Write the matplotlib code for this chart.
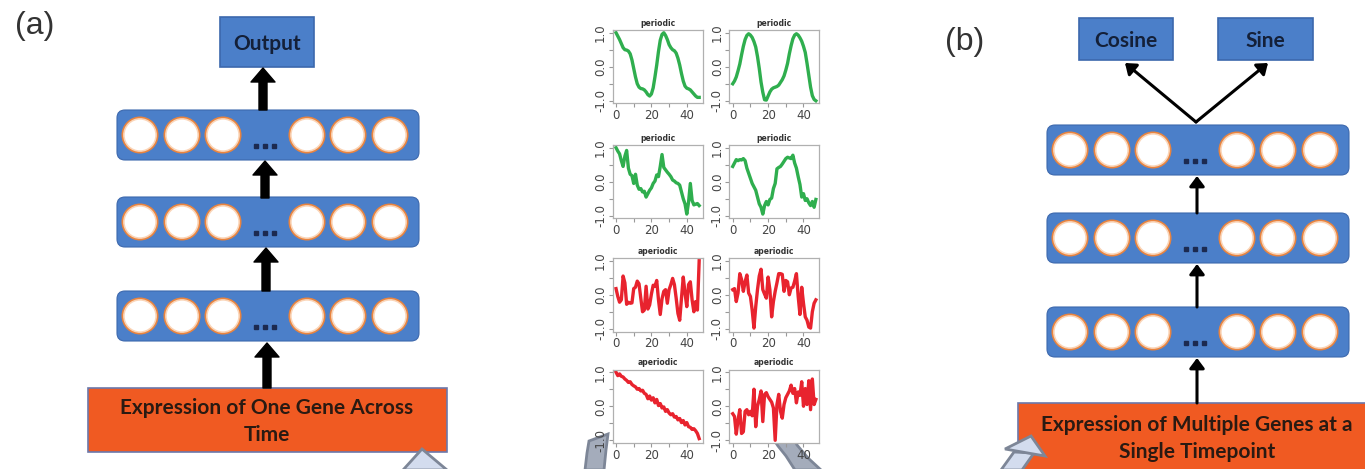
import numpy as np
import matplotlib
matplotlib.use("Agg")
import matplotlib.pyplot as plt
from matplotlib.patches import FancyBboxPatch, Rectangle, Circle, FancyArrow, Polygon

# ---------------- data ----------------
time = list(range(48))

periodic_1 = [1.00, 0.90, 0.80, 0.68, 0.56, 0.50, 0.49, 0.46, 0.38, 0.20, -0.05, -0.30,
              -0.50, -0.60, -0.64, -0.65, -0.68, -0.74, -0.82, -0.86, -0.80, -0.62, -0.30, 0.05,
              0.45, 0.78, 0.95, 1.00, 0.92, 0.80, 0.65, 0.56, 0.50, 0.47, 0.40, 0.25,
              0.05, -0.20, -0.42, -0.57, -0.63, -0.65, -0.68, -0.74, -0.80, -0.86, -0.90, -0.90]
periodic_2 = [-0.50, -0.42, -0.30, -0.12, 0.08, 0.35, 0.60, 0.80, 0.92, 0.97, 0.93, 0.86,
              0.74, 0.58, 0.30, -0.05, -0.45, -0.75, -0.97, -0.98, -0.86, -0.74, -0.66, -0.62,
              -0.60, -0.58, -0.54, -0.46, -0.38, -0.27, -0.10, 0.10, 0.38, 0.62, 0.82, 0.93,
              0.97, 0.93, 0.85, 0.75, 0.60, 0.42, 0.10, -0.25, -0.60, -0.85, -0.96, -1.00]
periodic_3 = [1.00, 0.90, 0.82, 0.62, 0.45, 0.75, 0.92, 0.40, 0.22, 0.18, -0.05, 0.22,
              -0.10, -0.22, -0.20, -0.30, -0.28, -0.45, -0.35, -0.25, -0.18, -0.05, 0.02, 0.20,
              0.15, 0.45, 0.80, 0.42, 0.35, 0.28, 0.22, 0.15, 0.05, 0.02, -0.03, -0.05,
              -0.10, -0.30, -0.50, -0.65, -0.95, -0.60, -0.05, -0.55, -0.68, -0.66, -0.64, -0.70]
periodic_4 = [0.45, 0.55, 0.65, 0.62, 0.65, 0.64, 0.68, 0.62, 0.40, 0.25, 0.10, -0.05,
              -0.15, -0.25, -0.45, -0.65, -0.75, -0.95, -0.70, -0.58, -0.68, -0.52, -0.48, -0.20,
              -0.05, 0.38, 0.42, 0.45, 0.52, 0.60, 0.68, 0.72, 0.70, 0.68, 0.78, 0.55,
              0.40, 0.15, -0.08, -0.45, -0.35, -0.55, -0.50, -0.62, -0.70, -0.58, -0.75, -0.52]
aperiodic_1 = [0.18, -0.05, -0.22, -0.15, 0.55, 0.35, -0.28, -0.22, -0.25, -0.24, 0.18, 0.22,
               0.40, 0.32, -0.10, -0.50, -0.45, 0.25, -0.42, -0.30, 0.02, 0.28, 0.25, 0.42,
               -0.15, -0.58, -0.12, 0.10, 0.15, -0.25, 0.15, 0.30, 0.48, 0.30, -0.10, -0.55,
               -0.75, -0.10, 0.52, 0.05, -0.35, 0.30, 0.38, -0.15, -0.50, -0.20, -0.45, 1.00]
aperiodic_2 = [0.15, 0.18, -0.20, 0.05, 0.62, 0.45, 0.10, 0.38, 0.58, 0.05, -0.05, -0.45,
               -0.98, -0.35, 0.15, 0.55, 0.75, 0.15, 0.02, -0.10, 0.52, 0.15, -0.65, -0.20,
               0.10, 0.35, 0.62, 0.62, 0.60, 0.10, 0.42, 0.38, 0.00, 0.20, 0.22, 0.40,
               0.62, -0.05, -0.58, 0.22, -0.25, -0.65, -0.75, -0.95, -0.98, -0.50, -0.25, -0.15]
aperiodic_3 = [1.00, 0.90, 0.95, 0.88, 0.86, 0.80, 0.76, 0.70, 0.72, 0.64, 0.60, 0.57,
               0.50, 0.52, 0.45, 0.47, 0.38, 0.35, 0.22, 0.30, 0.18, 0.25, 0.10, 0.20,
               0.02, 0.08, -0.05, -0.02, -0.15, -0.10, -0.20, -0.25, -0.22, -0.32, -0.30, -0.40,
               -0.36, -0.48, -0.42, -0.55, -0.48, -0.60, -0.62, -0.68, -0.66, -0.72, -0.80, -0.95]
aperiodic_4 = [-0.22, -0.30, -0.82, -0.40, -0.10, -0.80, -0.75, -0.15, -0.10, -0.25, -0.15, -0.28,
               0.50, -0.60, 0.00, 0.20, 0.45, -0.45, 0.35, 0.40, 0.28, 0.20, 0.12, -0.05,
               -1.00, 0.05, 0.35, -0.15, -0.35, 0.05, 0.25, 0.35, 0.45, 0.62, 0.38, 0.52,
               0.10, 0.42, 0.32, 0.72, 0.00, 0.52, 0.05, 0.75, -0.10, 0.80, 0.05, 0.20]

series = [periodic_1, periodic_2, periodic_3, periodic_4,
          aperiodic_1, aperiodic_2, aperiodic_3, aperiodic_4]
titles = ["periodic"] * 4 + ["aperiodic"] * 4
line_colors = ["#2fae4e"] * 4 + ["#e8232e"] * 4

# ---------------- figure ----------------
W, H = 1365, 469
fig = plt.figure(figsize=(W / 100, H / 100), dpi=100)
fig.patch.set_facecolor("white")
ax = fig.add_axes([0, 0, 1, 1])
ax.set_xlim(0, W)
ax.set_ylim(H, 0)
ax.axis("off")

BLUE = "#4b7fc9"
BLUE_EDGE = "#3c68ad"
ORANGE = "#f05a22"
BOX_FONT = ["Lato", "DejaVu Sans"]
TXT_DARK = "#2a1a12"
TXT_NAVY = "#142038"


def draw_layer(x0, x1, yc, h=50):
    ax.add_patch(FancyBboxPatch((x0, yc - h / 2), x1 - x0, h,
                                boxstyle="round,pad=0,rounding_size=8",
                                fc=BLUE, ec=BLUE_EDGE, lw=0.8, zorder=2))
    offs = [23, 65, 106, 190, 231, 273]
    for o in offs:
        cx = x0 + o
        ax.add_patch(Circle((cx, yc), 18.5, fc="#e9843f", ec="none", zorder=3))
        ax.add_patch(Circle((cx, yc), 16.9, fc="#fad5b8", ec="none", zorder=3))
        ax.add_patch(Circle((cx, yc), 15.3, fc="white", ec="none", zorder=3))
    dx = x0 + 148
    ax.plot([dx - 9, dx, dx + 9], [yc + 11] * 3, ls="none", marker="s",
            ms=2.8, color="#1c2a50", zorder=3)


def draw_box(x0, x1, y0, y1, fc, ec):
    ax.add_patch(Rectangle((x0, y0), x1 - x0, y1 - y0, fc=fc, ec=ec, lw=1.2, zorder=2))


def thick_arrow(x, ys, ye):
    ax.add_patch(FancyArrow(x, ys, 0, ye - ys, width=8, head_width=24, head_length=14,
                            length_includes_head=True, fc="black", ec="black",
                            lw=1, joinstyle="round", zorder=4))


def thin_arrow(xs, ys, xe, ye):
    ax.annotate("", xy=(xe, ye), xytext=(xs, ys),
                arrowprops=dict(arrowstyle="-|>,head_width=0.45,head_length=0.6",
                                lw=2.2, color="black", shrinkA=0, shrinkB=0),
                zorder=4)


# ----- panel (a) -----
ax.text(35, 26, "(a)", fontsize=23, family=["Liberation Sans", "DejaVu Sans"],
        color="#333333", ha="center", va="center")
draw_box(220, 314, 17, 67, BLUE, BLUE_EDGE)
ax.text(267, 50, "Output", fontsize=15, fontweight="bold", family=BOX_FONT,
        color=TXT_NAVY, ha="center", va="baseline", zorder=5)
for yc in (135, 222, 316):
    draw_layer(117, 419, yc)
draw_box(88, 447, 388, 452, ORANGE, "#6c78aa")
ax.text(267, 414, "Expression of One Gene Across", fontsize=15, fontweight="bold",
        family=BOX_FONT, color=TXT_DARK, ha="center", va="baseline", zorder=5)
ax.text(267, 441, "Time", fontsize=15, fontweight="bold",
        family=BOX_FONT, color=TXT_DARK, ha="center", va="baseline", zorder=5)
thick_arrow(267, 388, 343)
thick_arrow(266, 291, 248)
thick_arrow(265, 198, 161)
thick_arrow(263, 110, 68)

# ----- panel (b) -----
ax.text(965, 42, "(b)", fontsize=23, family=["Liberation Sans", "DejaVu Sans"],
        color="#333333", ha="center", va="center")
draw_box(1079, 1173, 18, 60, BLUE, BLUE_EDGE)
draw_box(1218, 1313, 18, 60, BLUE, BLUE_EDGE)
ax.text(1126, 47, "Cosine", fontsize=15, fontweight="bold", family=BOX_FONT,
        color=TXT_NAVY, ha="center", va="baseline", zorder=5)
ax.text(1265, 47, "Sine", fontsize=15, fontweight="bold", family=BOX_FONT,
        color=TXT_NAVY, ha="center", va="baseline", zorder=5)
for yc in (150, 238, 332):
    draw_layer(1047, 1349, yc)
draw_box(1018, 1390, 403, 480, ORANGE, "#6c78aa")
ax.text(1197, 431, "Expression of Multiple Genes at a", fontsize=15, fontweight="bold",
        family=BOX_FONT, color=TXT_DARK, ha="center", va="baseline", zorder=5)
ax.text(1197, 458, "Single Timepoint", fontsize=15, fontweight="bold",
        family=BOX_FONT, color=TXT_DARK, ha="center", va="baseline", zorder=5)
thin_arrow(1197, 403, 1197, 358)
thin_arrow(1197, 307, 1197, 264)
thin_arrow(1197, 213, 1197, 176)
thin_arrow(1196, 122, 1125, 63)
thin_arrow(1196, 122, 1268, 63)

# ----- gray decorative arrows at the bottom -----
LIGHT = "#d3dcee"
GRAYF = "#a4acbb"
GRAYE = "#7d8697"
ax.add_patch(Polygon([(403, 470), (422, 449), (447, 470)], closed=True,
                     fc=LIGHT, ec=GRAYE, lw=2, zorder=6))
ax.add_patch(Polygon([(589, 441), (608, 434), (606, 450), (604, 470), (585, 470), (587, 453)],
                     closed=True, fc=GRAYF, ec=GRAYE, lw=2, zorder=6))
ax.add_patch(Polygon([(772, 437), (791, 433), (797, 445), (808, 458), (821, 470),
                      (795, 470), (786, 456), (778, 446)],
                     closed=True, fc=GRAYF, ec=GRAYE, lw=2, zorder=6))
ax.add_patch(Polygon([(1014, 452), (1034, 453), (1022, 470), (1001, 470)], closed=True,
                     fc=LIGHT, ec=GRAYE, lw=2, zorder=6))
ax.add_patch(Polygon([(1005, 449), (1031, 436), (1045, 456)], closed=True,
                     fc=LIGHT, ec=GRAYE, lw=2, zorder=6))

# ----- small line plots -----
col_left = [612.7, 729.4]
row_top = [30, 145, 258, 369.5]
pw, ph = 89.8, 73.5
for i, (vals, title, col) in enumerate(zip(series, titles, line_colors)):
    r, c = divmod(i, 2)
    l = col_left[c]
    t = row_top[r]
    sax = fig.add_axes([l / W, 1 - (t + ph) / H, pw / W, ph / H])
    sax.plot(time, vals, color=col, lw=2.4, solid_joinstyle="round")
    sax.set_xlim(-1.88, 48.88)
    sax.set_ylim(-1.08, 1.08)
    sax.set_xticks([0, 10, 20, 30, 40])
    sax.set_xticklabels(["0", "", "20", "", "40"])
    sax.set_yticks([-1, -0.5, 0, 0.5, 1])
    sax.set_yticklabels(["-1.0", "", "0.0", "", "1.0"], rotation=90, va="center")
    sax.tick_params(axis="both", length=3, width=0.8, color="#999999",
                    labelsize=8.5, labelcolor="#444444", pad=1)
    for sp in sax.spines.values():
        sp.set_color("#b0b0b0")
        sp.set_linewidth(0.9)
    sax.set_title(title, fontsize=5.5, fontweight="bold", color="#333333", pad=3)
    sax.set_facecolor("white")

fig.savefig("out.png", dpi=100, facecolor="white")
